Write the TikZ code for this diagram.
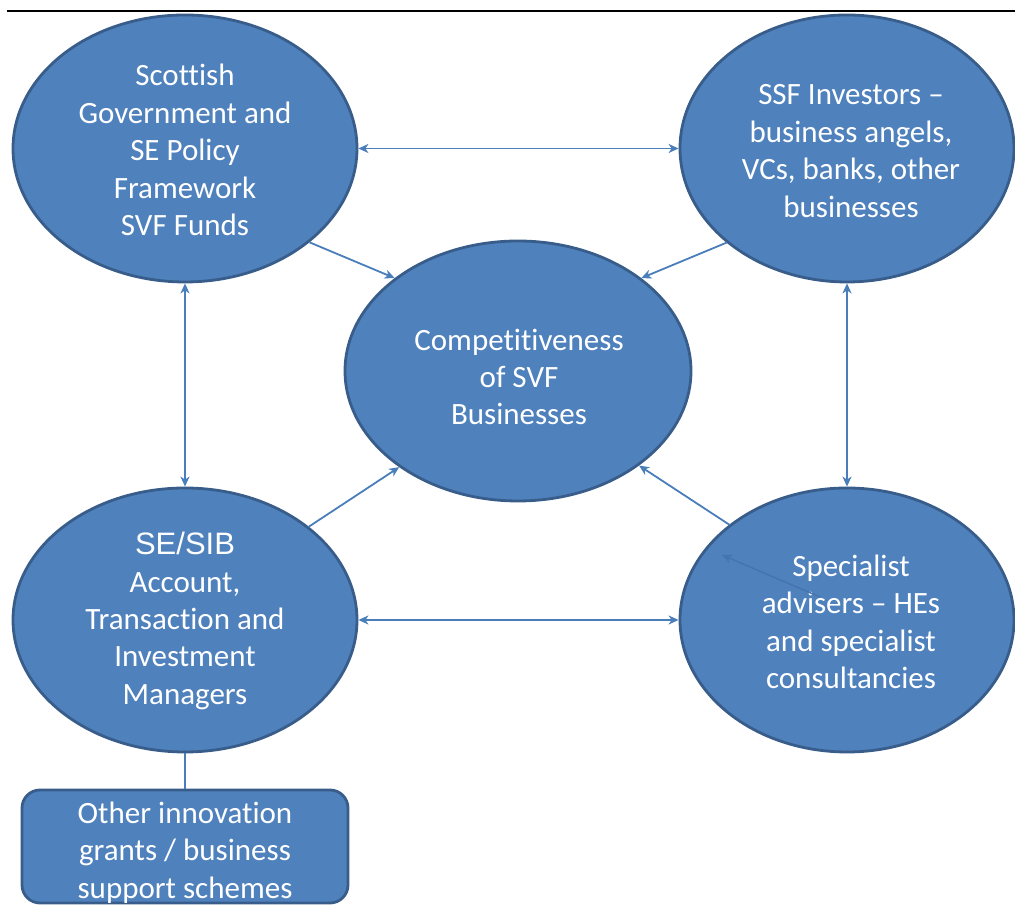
\documentclass[tikz,border=0pt]{standalone}
\usepackage{fontspec}
\setmainfont{Carlito}[Ligatures={NoCommon}]
\newfontfamily\arialf{Liberation Sans}
\usetikzlibrary{shapes.geometric,arrows.meta}
\definecolor{fillblue}{HTML}{4F81BD}
\definecolor{edgeblue}{HTML}{385D8A}
\definecolor{linkblue}{HTML}{4A7EBB}
\definecolor{faintblue}{HTML}{4575B1}
\tikzset{
  bubble/.style={ellipse, draw=edgeblue, fill=fillblue, line width=2.8pt, inner sep=0pt},
  btext/.style={text=white, align=center, inner sep=0pt, font=\fontsize{31}{37.4}\selectfont},
  link/.style={draw=linkblue, line width=1.8pt},
  tip/.style={-{Stealth[length=10pt,width=9pt,inset=3pt]}},
  tips/.style={{Stealth[length=10pt,width=9pt,inset=3pt]}-{Stealth[length=10pt,width=9pt,inset=3pt]}},
  panel/.style={draw=edgeblue, fill=fillblue, line width=2.8pt, rounded corners=18pt, inner sep=0pt}
}
\begin{document}
\begin{tikzpicture}[x=1pt,y=1pt]
\useasboundingbox (0,0) rectangle (1015,907);
\coordinate (ls) at (7,896);
\coordinate (le) at (1015,896);
\draw[line width=2.5pt] (ls) -- (le);

\node[bubble, minimum width=344pt, minimum height=267pt] (tl) at (185,758.5) {};
\node[bubble, minimum width=334pt, minimum height=267pt] (tr) at (847,758.5) {};
\node[bubble, minimum width=346pt, minimum height=260pt] (c) at (518,536) {};
\node[bubble, minimum width=344pt, minimum height=264pt] (bl) at (185,287) {};
\node[bubble, minimum width=334pt, minimum height=264pt] (br) at (847,287) {};
\node[panel, minimum width=326pt, minimum height=113pt] (box) at (185,60.5) {};

\node[btext] (tlt) at (185,757) {Scottish\\Government and\\SE Policy\\Framework\\SVF Funds};
\node[btext] (trt) at (851,756) {SSF Investors –\\business angels,\\VCs, banks, other\\businesses};
\node[btext] (ct) at (519,530) {Competitiveness\\of SVF\\Businesses};
\node[btext] (blt) at (185,286) {{\arialf SE/SIB}\\Account,\\Transaction and\\Investment\\Managers};
\node[btext] (brt) at (851,285) {Specialist\\advisers – HEs\\and specialist\\consultancies};
\node[btext] (boxt) at (185,54.5) {Other innovation\\grants / business\\support schemes};

\draw[link, tips] (tl.east) -- (tr.west);
\draw[link, tips] (bl.east) -- (br.west);
\draw[link, tips] (tl.south) -- (bl.north);
\draw[link, tips] (tr.south) -- (br.north);
\draw[link, tip] (tl.-37.8) -- (c.143.5);
\draw[link, tip] (tr.-142) -- (c.37.3);
\draw[link, tip] (bl.37.9) -- (c.-141.3);
\draw[link, tip] (br.141) -- (c.-38);
\draw[link] (bl.south) -- (box.north);

\coordinate (fa) at (820,310);
\coordinate (fb) at (722,352);
\draw[draw=faintblue, line width=1.5pt, tip] (fa) -- (fb);
\end{tikzpicture}
\end{document}
